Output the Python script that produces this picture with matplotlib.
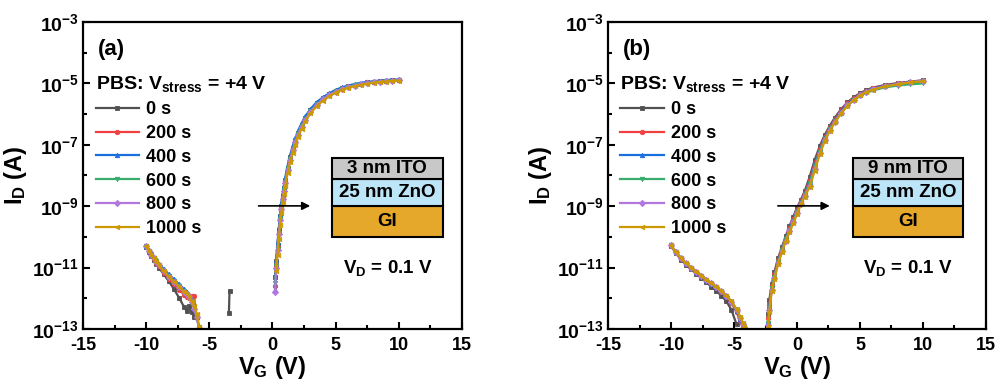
import numpy as np
import matplotlib
matplotlib.use("Agg")
import matplotlib.pyplot as plt
from matplotlib.patches import Rectangle
from matplotlib.ticker import FixedLocator, FuncFormatter, MultipleLocator

plt.rcParams['font.family'] = ['Liberation Sans', 'DejaVu Sans']
plt.rcParams['font.weight'] = 'bold'
plt.rcParams['mathtext.fontset'] = 'custom'
plt.rcParams['mathtext.bf'] = 'Liberation Sans:bold'
plt.rcParams['mathtext.rm'] = 'Liberation Sans:bold'
plt.rcParams['mathtext.default'] = 'bf'

# stress times and plotting styles (Origin default palette)
labels = ["0 s", "200 s", "400 s", "600 s", "800 s", "1000 s"]
colors = ["#515151", "#F14040", "#1A6FDF", "#37AD6B", "#B177DE", "#CC9900"]
markers = ["s", "o", "^", "v", "D", "<"]

nan = np.nan

# ---- panel (a): 3 nm ITO / 25 nm ZnO ----  (values are log10 of I_D in A)
vg_on_a = [0.2, 0.3, 0.4, 0.5, 0.6, 0.7, 0.8, 0.9, 1.0, 1.2, 1.4, 1.6, 1.8, 2.0, 2.3, 2.6,
           3.0, 3.5, 4.0, 4.5, 5.0, 5.5, 6.0, 6.5, 7.0, 7.5, 8.0, 8.5, 9.0, 9.5, 10.0]
on_a = [
    [-11.30, -10.80, -10.25, -9.78, -9.32, -8.98, -8.68, -8.40, -8.15, -7.74, -7.40, -7.10, -6.85, -6.62, -6.35, -6.12,
     -5.88, -5.65, -5.48, -5.35, -5.24, -5.16, -5.10, -5.05, -5.01, -4.97, -4.95, -4.93, -4.91, -4.90, -4.89],
    [-11.60, -10.90, -10.32, -9.83, -9.37, -9.01, -8.71, -8.43, -8.17, -7.76, -7.42, -7.12, -6.86, -6.63, -6.36, -6.13,
     -5.89, -5.66, -5.49, -5.36, -5.25, -5.17, -5.10, -5.05, -5.01, -4.97, -4.95, -4.93, -4.91, -4.90, -4.89],
    [-11.72, -10.75, -10.18, -9.70, -9.25, -8.91, -8.61, -8.34, -8.09, -7.68, -7.34, -7.04, -6.79, -6.57, -6.30, -6.07,
     -5.84, -5.61, -5.45, -5.32, -5.21, -5.13, -5.07, -5.02, -4.98, -4.95, -4.93, -4.91, -4.89, -4.88, -4.87],
    [-11.50, -10.95, -10.38, -9.88, -9.42, -9.05, -8.75, -8.47, -8.21, -7.79, -7.45, -7.15, -6.89, -6.66, -6.39, -6.16,
     -5.91, -5.68, -5.51, -5.37, -5.26, -5.18, -5.11, -5.06, -5.02, -4.98, -4.96, -4.94, -4.92, -4.91, -4.90],
    [-11.78, -11.00, -10.42, -9.92, -9.46, -9.08, -8.78, -8.50, -8.24, -7.82, -7.48, -7.18, -6.92, -6.69, -6.41, -6.18,
     -5.93, -5.70, -5.52, -5.38, -5.27, -5.19, -5.12, -5.07, -5.03, -4.99, -4.96, -4.94, -4.92, -4.91, -4.90],
    [nan, -11.10, -10.58, -10.08, -9.62, -9.22, -8.90, -8.61, -8.35, -7.92, -7.57, -7.26, -7.00, -6.76, -6.48, -6.24,
     -5.98, -5.74, -5.56, -5.42, -5.30, -5.21, -5.14, -5.09, -5.05, -5.01, -4.98, -4.96, -4.94, -4.92, -4.91],
]
vg_off_a = [-10.0, -9.8, -9.6, -9.4, -9.2, -9.0, -8.6, -8.2, -7.8, -7.4, -7.0, -6.8, -6.6, -6.4, -6.2, -6.0, -5.8]
off_a = [
    [-10.32, -10.48, -10.62, -10.75, -10.88, -11.00, -11.22, -11.45, -11.70, -11.98, -12.28, -12.40, -12.25, -12.45, -12.60, nan, nan],
    [-10.31, -10.46, -10.60, -10.72, -10.85, -10.96, -11.16, -11.36, -11.55, -11.72, -11.88, -11.95, -12.00, -11.93, -11.93, -12.65, nan],
    [-10.30, -10.43, -10.55, -10.66, -10.77, -10.87, -11.05, -11.22, -11.38, -11.54, -11.70, -11.80, -11.90, -12.05, -12.30, -12.60, -13.00],
    [-10.31, -10.45, -10.57, -10.69, -10.80, -10.91, -11.10, -11.28, -11.44, -11.60, -11.76, -11.85, -11.94, -12.08, -12.28, -12.55, -12.95],
    [-10.30, -10.45, -10.58, -10.70, -10.82, -10.93, -11.12, -11.30, -11.46, -11.62, -11.78, -11.87, -11.97, -12.12, -12.35, -12.62, -12.98],
    [-10.30, -10.45, -10.58, -10.70, -10.82, -10.93, -11.12, -11.30, -11.46, -11.62, -11.78, -11.86, -11.95, -12.08, -12.25, -12.50, -12.95],
]
# isolated pair of 0 s points above the noise floor
blip_vg_a = [-3.45, -3.40]
blip_a = [-12.49, -11.75]

# ---- panel (b): 9 nm ITO / 25 nm ZnO ----
vg_on_b = [-2.3, -2.2, -2.0, -1.8, -1.5, -1.2, -0.9, -0.6, -0.3, 0.0, 0.3, 0.6, 1.0, 1.4, 1.8, 2.2,
           2.6, 3.0, 3.5, 4.0, 4.5, 5.0, 5.5, 6.0, 7.0, 8.0, 9.0, 10.0]
on_b = [
    [-12.50, -12.05, -11.55, -11.15, -10.70, -10.33, -9.98, -9.65, -9.35, -9.05, -8.80, -8.52, -8.05, -7.50, -7.05, -6.68,
     -6.38, -6.12, -5.84, -5.62, -5.45, -5.32, -5.22, -5.14, -5.05, -4.99, -4.94, -4.90],
    [-12.64, -12.17, -11.61, -11.22, -10.75, -10.38, -10.03, -9.71, -9.41, -9.11, -8.84, -8.57, -8.15, -7.61, -7.13, -6.74,
     -6.43, -6.17, -5.88, -5.65, -5.48, -5.34, -5.24, -5.16, -5.07, -5.00, -4.95, -4.91],
    [-12.73, -12.25, -11.65, -11.27, -10.79, -10.42, -10.06, -9.75, -9.46, -9.15, -8.87, -8.61, -8.22, -7.68, -7.18, -6.78,
     -6.47, -6.20, -5.91, -5.68, -5.50, -5.36, -5.25, -5.17, -5.08, -5.01, -4.96, -4.92],
    [-12.79, -12.31, -11.68, -11.30, -10.82, -10.44, -10.08, -9.78, -9.49, -9.18, -8.89, -8.64, -8.26, -7.73, -7.22, -6.81,
     -6.50, -6.24, -5.95, -5.72, -5.55, -5.41, -5.31, -5.23, -5.13, -5.07, -5.03, -5.00],
    [-12.88, -12.39, -11.72, -11.35, -10.85, -10.47, -10.12, -9.82, -9.53, -9.22, -8.92, -8.67, -8.33, -7.80, -7.27, -6.85,
     -6.52, -6.25, -5.96, -5.71, -5.53, -5.38, -5.27, -5.19, -5.09, -5.02, -4.96, -4.91],
    [-12.95, -12.45, -11.75, -11.38, -10.88, -10.50, -10.14, -9.85, -9.56, -9.25, -8.94, -8.70, -8.38, -7.85, -7.31, -6.88,
     -6.55, -6.27, -5.98, -5.73, -5.54, -5.39, -5.28, -5.20, -5.10, -5.03, -4.97, -4.93],
]
vg_off_b = [-10.0, -9.6, -9.2, -8.8, -8.4, -8.0, -7.6, -7.2, -6.8, -6.4, -6.0, -5.6, -5.2, -4.8, -4.5, -4.3, -4.2]
off_b = [
    [-10.30, -10.53, -10.74, -10.91, -11.06, -11.20, -11.34, -11.48, -11.62, -11.76, -11.92, -12.10, -12.38, -12.85, nan, nan, nan],
    [-10.29, -10.51, -10.72, -10.88, -11.02, -11.15, -11.28, -11.42, -11.54, -11.67, -11.80, -11.96, -12.16, -12.45, -12.75, -12.95, nan],
    [-10.28, -10.50, -10.70, -10.86, -11.00, -11.13, -11.26, -11.39, -11.52, -11.64, -11.77, -11.93, -12.12, -12.40, -12.68, -12.90, nan],
    [-10.28, -10.50, -10.71, -10.87, -11.01, -11.14, -11.27, -11.40, -11.52, -11.64, -11.78, -11.93, -12.12, -12.38, -12.65, -12.86, -12.96],
    [-10.28, -10.50, -10.70, -10.86, -11.00, -11.13, -11.26, -11.39, -11.51, -11.63, -11.77, -11.92, -12.11, -12.37, -12.63, -12.84, -12.95],
    [-10.28, -10.50, -10.70, -10.86, -11.00, -11.13, -11.26, -11.39, -11.51, -11.63, -11.76, -11.91, -12.10, -12.35, -12.60, -12.80, -12.92],
]

panels = [
    dict(tag="(a)", ito="3 nm ITO", vg_on=vg_on_a, on=on_a, vg_off=vg_off_a, off=off_a,
         pos=[0.0825, 0.141, 0.3767, 0.8016], box_x=0.656, arrow=(0.456, 0.607), vd_x=0.686),
    dict(tag="(b)", ito="9 nm ITO", vg_on=vg_on_b, on=on_b, vg_off=vg_off_b, off=off_b,
         pos=[0.6044, 0.141, 0.3757, 0.8016], box_x=0.647, arrow=(0.442, 0.594), vd_x=0.675),
]

fig = plt.figure(figsize=(10.06, 3.83), dpi=100)

for k, p in enumerate(panels):
    ax = fig.add_axes(p["pos"])
    ax.set_yscale("log")
    handles = []
    for i in range(6):
        style = dict(color=colors[i], marker=markers[i], ms=3.2, lw=1.6, mew=0.6)
        h, = ax.plot(p["vg_on"], 10.0 ** np.array(p["on"][i]), label=labels[i], **style)
        ax.plot(p["vg_off"], 10.0 ** np.array(p["off"][i]), **style)
        handles.append(h)
        if k == 0 and i == 0:
            ax.plot(blip_vg_a, 10.0 ** np.array(blip_a), **style)

    ax.set_xlim(-15, 15)
    ax.set_ylim(1e-13, 1e-3)
    ax.xaxis.set_major_locator(MultipleLocator(5))
    ax.xaxis.set_minor_locator(MultipleLocator(2.5))
    ax.yaxis.set_major_locator(FixedLocator([10.0 ** e for e in range(-13, -2, 2)]))
    ax.yaxis.set_minor_locator(FixedLocator([10.0 ** e for e in range(-12, -3, 2)]))
    ax.yaxis.set_major_formatter(FuncFormatter(lambda v, _: r"$10^{%d}$" % round(np.log10(v))))
    ax.yaxis.set_minor_formatter(FuncFormatter(lambda v, _: ""))
    ax.xaxis.set_major_formatter(FuncFormatter(lambda v, _: "%d" % v))
    ax.tick_params(which="both", direction="in", top=False, right=False, width=1.5)
    ax.tick_params(which="major", length=5)
    ax.tick_params(which="minor", length=3)
    ax.tick_params(axis="y", pad=3, labelsize=14)
    ax.tick_params(axis="x", pad=6, labelsize=13)
    for s in ax.spines.values():
        s.set_linewidth(1.6)

    ax.set_xlabel(r"V$_G$ (V)", fontsize=17, fontweight="bold", labelpad=0)
    ax.set_ylabel(r"I$_D$ (A)", fontsize=17, fontweight="bold", labelpad=2)

    ax.text(0.04, 0.91, p["tag"], transform=ax.transAxes, fontsize=16, va="center", ha="left")

    ax.legend(handles=handles, loc="upper left", bbox_to_anchor=(0.033, 0.83),
              title=r"PBS: V$_{stress}$ = +4 V", frameon=False, fontsize=13,
              title_fontproperties={"size": 14, "weight": "bold"}, alignment="left",
              handlelength=2.4, handletextpad=0.4, labelspacing=0.38, borderpad=0,
              borderaxespad=0)

    ax.text(p["vd_x"], 0.199, r"V$_D$ = 0.1 V", transform=ax.transAxes,
            fontsize=13.5, va="center", ha="left")

    # layer stack sketch
    bx, bw = p["box_x"], 0.293
    layers = [(0.299, 0.401, "#E5A82A", "GI"),
              (0.401, 0.487, "#BDE5F8", "25 nm ZnO"),
              (0.487, 0.558, "#C8C8C8", p["ito"])]
    for y0, y1, fc, txt in layers:
        ax.add_patch(Rectangle((bx, y0), bw, y1 - y0, transform=ax.transAxes,
                               facecolor=fc, edgecolor="black", lw=1.5, zorder=5))
        ax.text(bx + bw / 2, (y0 + y1) / 2, txt, transform=ax.transAxes, fontsize=13.5,
                ha="center", va="center", zorder=6)
    a0, a1 = p["arrow"]
    ax.annotate("", xy=(a1, 0.401), xytext=(a0, 0.401), xycoords="axes fraction",
                arrowprops=dict(arrowstyle="-|>", color="black", lw=1.2, mutation_scale=12))

fig.savefig("out.png", dpi=100)
